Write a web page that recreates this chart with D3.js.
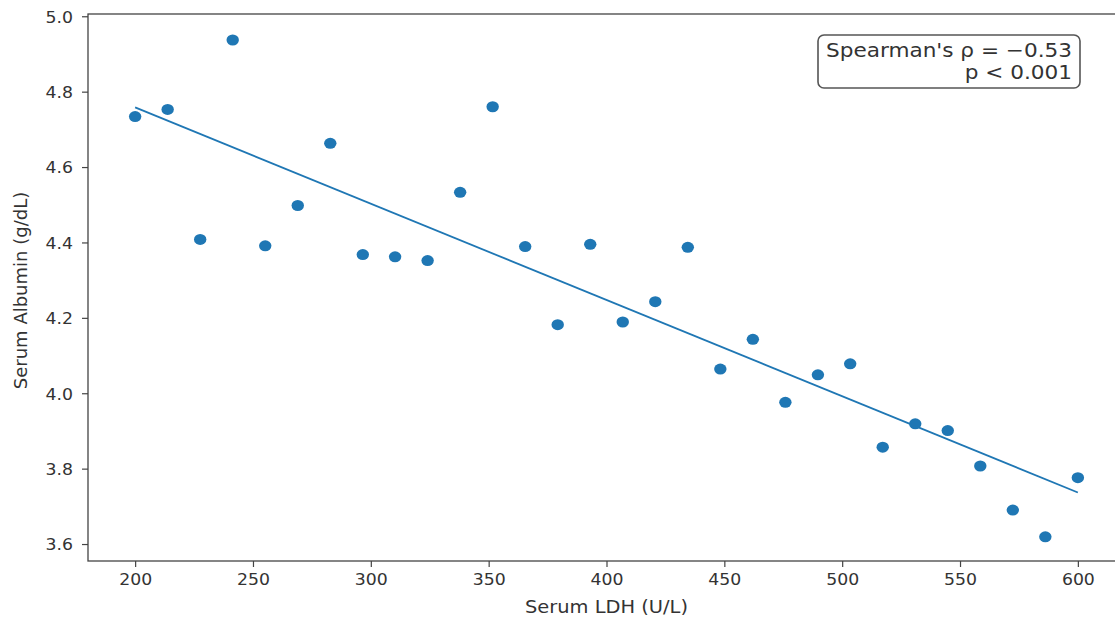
<!DOCTYPE html>
<html>
<head>
<meta charset="utf-8">
<script src="https://cdn.jsdelivr.net/npm/d3@7"></script>
<style>
  html, body { margin: 0; padding: 0; background: #fff; }
  svg { display: block; font-family: "DejaVu Sans", sans-serif; }
</style>
</head>
<body>
<svg id="chart" width="1115" height="619"></svg>
<script>
// ---- data ----
const ldh = [200, 213.8, 227.6, 241.4, 255.2, 269.0, 282.8, 296.6, 310.3, 324.1,
             337.9, 351.7, 365.5, 379.3, 393.1, 406.9, 420.7, 434.5, 448.3, 462.1,
             475.9, 489.7, 503.4, 517.2, 531.0, 544.8, 558.6, 572.4, 586.2, 600];
const albumin = [4.734, 4.753, 4.408, 4.937, 4.391, 4.498, 4.663, 4.368, 4.362, 4.352,
                 4.533, 4.760, 4.389, 4.182, 4.395, 4.189, 4.243, 4.387, 4.064, 4.143,
                 3.976, 4.049, 4.078, 3.857, 3.919, 3.901, 3.807, 3.690, 3.619, 3.776];
const xTicks = [200, 250, 300, 350, 400, 450, 500, 550, 600];
const yTicks = [3.6, 3.8, 4.0, 4.2, 4.4, 4.6, 4.8, 5.0];
const xLabel = "Serum LDH (U/L)";
const yLabel = "Serum Albumin (g/dL)";
const annotLines = ["Spearman's \u03c1 = \u22120.53", "p < 0.001"];

// ---- layout ----
const W = 1115, H = 619;
const m = { left: 88, top: 14, right: 1125, bottom: 561 };
const stretch = 1.08;   // horizontal text stretch seen in the reference
const blue = "#1f77b4", axisCol = "#444", textCol = "#333";

const svg = d3.select("#chart");
const x = d3.scaleLinear().domain([180, 620]).range([m.left, m.right]);
const y = d3.scaleLinear().domain([3.555, 5.006]).range([m.bottom, m.top]);

// spines
const sp = svg.append("g").attr("stroke", axisCol).attr("stroke-width", 1.3).attr("fill", "none");
sp.append("rect").attr("x", m.left).attr("y", m.top)
  .attr("width", m.right - m.left).attr("height", m.bottom - m.top);

// x axis
const gx = svg.append("g").attr("transform", `translate(0,${m.bottom})`)
  .call(d3.axisBottom(x).tickValues(xTicks).tickFormat(d3.format("d")).tickSize(6).tickPadding(6));
gx.select(".domain").remove();
gx.selectAll(".tick line").attr("stroke", axisCol).attr("stroke-width", 1.2);
gx.selectAll(".tick text").attr("fill", textCol).attr("font-size", 16)
  .attr("font-family", "DejaVu Sans").attr("y", 0).attr("dy", 0)
  .attr("transform", `translate(0,24) scale(${stretch},1)`);

// y axis
const gy = svg.append("g").attr("transform", `translate(${m.left},0)`)
  .call(d3.axisLeft(y).tickValues(yTicks).tickFormat(d3.format(".1f")).tickSize(6).tickPadding(6));
gy.select(".domain").remove();
gy.selectAll(".tick line").attr("stroke", axisCol).attr("stroke-width", 1.2);
gy.selectAll(".tick text").attr("fill", textCol).attr("font-size", 16)
  .attr("font-family", "DejaVu Sans").attr("x", 0).attr("dy", "0.36em")
  .attr("transform", `translate(-15,0) scale(${stretch},1)`);

// regression line (least squares fit of the data)
const n = ldh.length;
const mx = d3.mean(ldh), my = d3.mean(albumin);
let sxy = 0, sxx = 0;
for (let i = 0; i < n; i++) { sxy += (ldh[i] - mx) * (albumin[i] - my); sxx += (ldh[i] - mx) ** 2; }
const slope = sxy / sxx, icpt = my - slope * mx;
const xr = d3.extent(ldh);
svg.append("path")
  .datum(xr.map(v => [v, icpt + slope * v]))
  .attr("fill", "none").attr("stroke", blue).attr("stroke-width", 1.8)
  .attr("d", d3.line().x(d => x(d[0])).y(d => y(d[1])));

// scatter points
svg.append("g").selectAll("ellipse")
  .data(ldh.map((v, i) => [v, albumin[i]]))
  .join("ellipse")
  .attr("cx", d => x(d[0])).attr("cy", d => y(d[1]))
  .attr("rx", 6.2).attr("ry", 5.5)
  .attr("fill", blue);

// axis labels
svg.append("text").text(xLabel)
  .attr("font-size", 18).attr("fill", textCol).attr("text-anchor", "middle")
  .attr("transform", `translate(${(m.left + m.right) / 2},613) scale(${stretch},1)`);
svg.append("text").text(yLabel)
  .attr("font-size", 18).attr("fill", textCol).attr("text-anchor", "middle")
  .attr("transform", `translate(27,${(m.top + m.bottom) / 2 + 3}) rotate(-90)`);

// annotation box
const ag = svg.append("g");
const boxRight = 1080, boxTop = 35, pad = 8;
const tg = ag.append("g").attr("transform", `translate(${boxRight - pad},0) scale(${stretch},1)`);
annotLines.forEach((t, i) => {
  tg.append("text").text(t).attr("x", 0).attr("y", 57.5 + i * 22)
    .attr("font-size", 20).attr("fill", textCol).attr("text-anchor", "end");
});
const bb = tg.node().getBBox();
const textW = bb.width * stretch;
ag.insert("rect", ":first-child")
  .attr("x", boxRight - pad - textW - pad).attr("y", boxTop)
  .attr("width", textW + 2 * pad).attr("height", 53)
  .attr("rx", 6).attr("ry", 6)
  .attr("fill", "#fff").attr("stroke", "#555").attr("stroke-width", 1.6);
</script>
</body>
</html>
